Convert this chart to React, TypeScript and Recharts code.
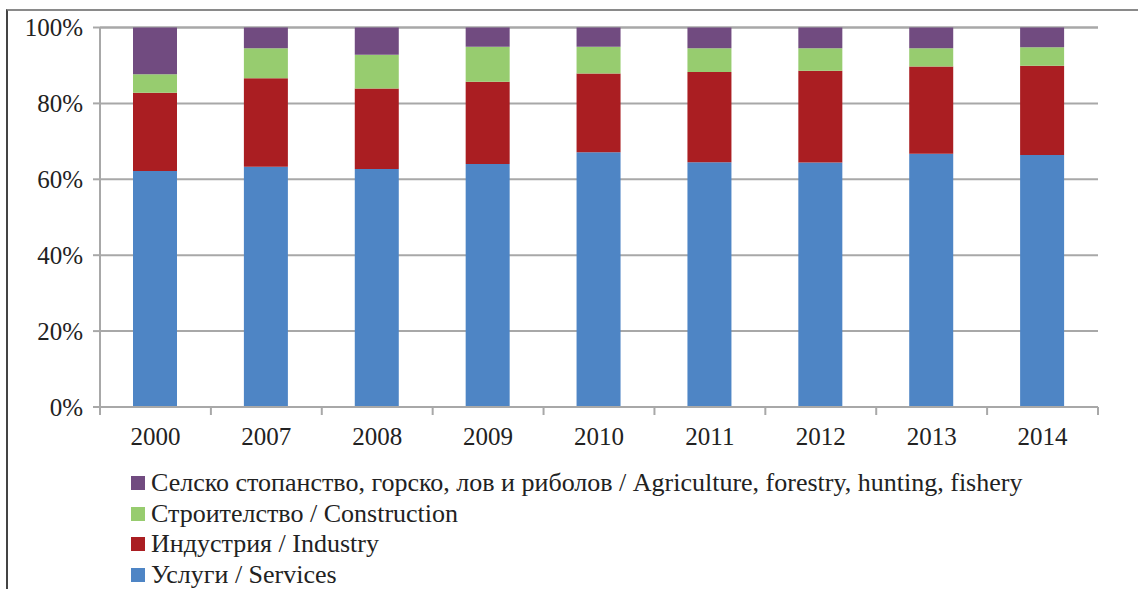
import React from "react";
import {
  BarChart,
  Bar,
  CartesianGrid,
  XAxis,
  YAxis,
  Legend,
} from "recharts";

const years = ["2000", "2007", "2008", "2009", "2010", "2011", "2012", "2013", "2014"];
const services = [62.2, 63.3, 62.7, 64.0, 67.1, 64.5, 64.4, 66.7, 66.4];
const industry = [20.6, 23.3, 21.2, 21.7, 20.8, 23.8, 24.2, 23.0, 23.5];
const construction = [4.9, 7.9, 8.9, 9.2, 7.0, 6.2, 5.9, 4.8, 4.9];
const agriculture = [12.3, 5.5, 7.2, 5.1, 5.1, 5.5, 5.5, 5.5, 5.2];
const yTicks = [0, 20, 40, 60, 80, 100];
const legendOrder = ["agriculture", "construction", "industry", "services"];

const data = years.map((year, i) => ({
  year,
  services: services[i],
  industry: industry[i],
  construction: construction[i],
  agriculture: agriculture[i],
}));

const font = "Liberation Serif, DejaVu Serif, Noto Serif, serif";
const gridColor = "#a8a8a8";

const XTick = (props: any) => {
  const { x, y, payload, index } = props;
  const half = payload && payload.offset ? payload.offset : 55.45;
  const axisY = y - 20;
  return (
    <g>
      <line x1={x - half} x2={x - half} y1={axisY} y2={axisY + 8} stroke={gridColor} strokeWidth={2} />
      {index === years.length - 1 && (
        <line x1={x + half} x2={x + half} y1={axisY} y2={axisY + 8} stroke={gridColor} strokeWidth={2} />
      )}
      <text x={x} y={y} dy="0.71em" textAnchor="middle" fill="#222" fontSize={25} style={{ fontFamily: font }}>
        {payload.value}
      </text>
    </g>
  );
};

const LegendList = (props: any) => {
  const items = [...(props.payload || [])].sort(
    (a: any, b: any) => legendOrder.indexOf(a.dataKey) - legendOrder.indexOf(b.dataKey)
  );
  return (
    <div style={{ fontFamily: font, fontSize: 26, color: "#222" }}>
      {items.map((it: any) => (
        <div key={it.dataKey} style={{ display: "flex", alignItems: "center", height: 30.5, whiteSpace: "nowrap" }}>
          <span style={{ display: "inline-block", width: 14, height: 14, background: it.color, marginRight: 6 }} />
          <span>{it.value}</span>
        </div>
      ))}
    </div>
  );
};

export default function App() {
  return (
    <div style={{ position: "absolute", left: 0, top: 0, width: 1138, height: 589, background: "#fff", fontFamily: font }}>
      <div
        style={{
          position: "absolute",
          left: 6,
          top: 9,
          right: 0,
          bottom: 0,
          borderTop: "2px solid #8a8a8a",
          borderLeft: "2px solid #444",
        }}
      />
      <BarChart
        width={1138}
        height={589}
        data={data}
        margin={{ top: 27.5, right: 40, left: 0, bottom: 142 }}
        style={{ position: "absolute", left: 0, top: 0, fontFamily: font }}
      >
        <CartesianGrid vertical={false} stroke={gridColor} strokeWidth={2} />
        <XAxis
          dataKey="year"
          height={40}
          axisLine={{ stroke: gridColor, strokeWidth: 2 }}
          tickLine={false}
          tickSize={7}
          tickMargin={13}
          interval={0}
          tick={<XTick />}
        />
        <YAxis
          width={100}
          domain={[0, 100]}
          ticks={yTicks}
          interval={0}
          tickFormatter={(v: number) => `${v}%`}
          axisLine={{ stroke: gridColor, strokeWidth: 2 }}
          tickLine={{ stroke: gridColor, strokeWidth: 2 }}
          tickSize={7}
          tickMargin={10}
          tick={{ fill: "#222", fontSize: 25, style: { fontFamily: font } }}
        />
        <Legend
          layout="vertical"
          align="center"
          verticalAlign="middle"
          wrapperStyle={{ left: 131, top: 468, width: 1000 }}
          content={<LegendList />}
        />
        <Bar dataKey="services" name="Услуги / Services" stackId="a" fill="#4e85c5" barSize={44} isAnimationActive={false} />
        <Bar dataKey="industry" name="Индустрия / Industry" stackId="a" fill="#aa1e22" barSize={44} isAnimationActive={false} />
        <Bar dataKey="construction" name="Строителство / Construction" stackId="a" fill="#97cc6f" barSize={44} isAnimationActive={false} />
        <Bar
          dataKey="agriculture"
          name="Селско стопанство, горско, лов и риболов / Agriculture, forestry, hunting, fishery"
          stackId="a"
          fill="#714b80"
          barSize={44}
          isAnimationActive={false}
        />
      </BarChart>
    </div>
  );
}
